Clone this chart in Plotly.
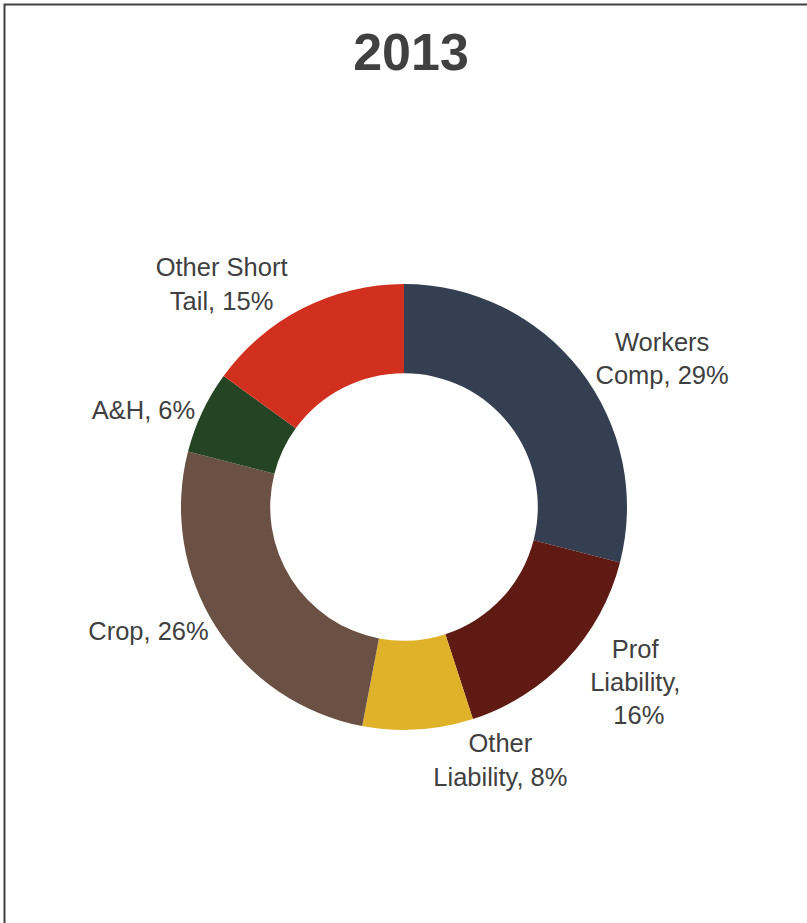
import plotly.graph_objects as go

# 2013 premium mix by line of business
categories = ["Workers Comp", "Prof Liability", "Other Liability", "Crop", "A&H", "Other Short Tail"]
label_lines = ["Workers<br>Comp,", "Prof<br>Liability,<br>", "Other<br>Liability,", "Crop,", "A&H,", "Other Short<br>Tail,"]
shares = [29, 16, 8, 26, 6, 15]
colors = ["#353F52", "#5F1A13", "#E0B22A", "#6B5144", "#244424", "#D2301F"]

W, H = 807, 923
cx, cy, r = 404, 507, 223

fig = go.Figure(
    data=[
        go.Pie(
            labels=categories,
            values=shares,
            text=label_lines,
            texttemplate="%{text} %{value}%",
            textposition="outside",
            textfont=dict(family="Liberation Sans, Arial", size=25.5, color="#404040"),
            hole=0.6,
            sort=False,
            direction="clockwise",
            rotation=0,
            marker=dict(colors=colors, line=dict(width=0)),
            domain=dict(x=[(cx - r) / W, (cx + r) / W], y=[1 - (cy + r) / H, 1 - (cy - r) / H]),
            showlegend=False,
        )
    ],
    layout=go.Layout(
        width=W,
        height=H,
        margin=dict(l=0, r=0, t=0, b=0),
        paper_bgcolor="white",
        title=dict(
            text="<b>2013</b>",
            x=411 / W,
            xanchor="center",
            y=1 - 52 / H,
            yanchor="middle",
            font=dict(family="Liberation Sans, Arial", size=52, color="#404040"),
        ),
        shapes=[
            dict(type="rect", xref="paper", yref="paper", x0=4.5 / W, x1=1.02, y0=-0.02, y1=1 - 4.5 / H,
                 line=dict(color="#404040", width=2))
        ],
    ),
)

# page body has a default 8px margin; drop it so the figure sits at the window corner
fig.write_html("out.html", config={"displayModeBar": False},
               post_script="document.body.style.margin='0';document.body.style.overflow='hidden';")
